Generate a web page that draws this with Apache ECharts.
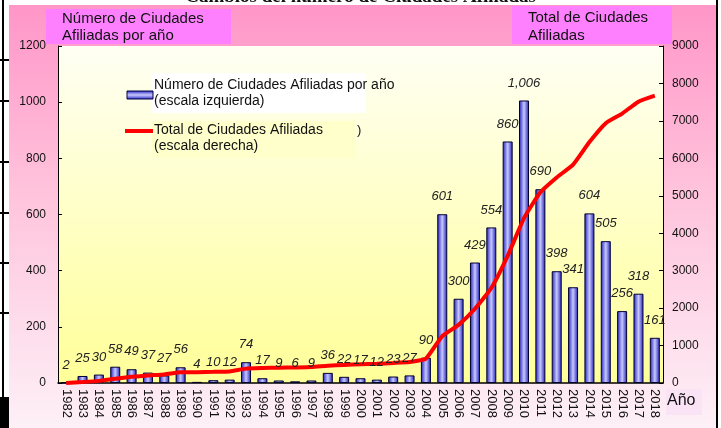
<!DOCTYPE html>
<html><head><meta charset="utf-8">
<script src="https://cdn.jsdelivr.net/npm/echarts@6/dist/echarts.min.js"></script>
<style>html,body{margin:0;padding:0;background:#fff;}#c{width:721px;height:428px;}</style>
</head><body><div id="c"></div>
<script>
var years = ['1982','1983','1984','1985','1986','1987','1988','1989','1990','1991','1992','1993','1994','1995','1996','1997','1998','1999','2000','2001','2002','2003','2004','2005','2006','2007','2008','2009','2010','2011','2012','2013','2014','2015','2016','2017','2018'];
var perYear = [2,25,30,58,49,37,27,56,4,10,12,74,17,9,6,9,36,22,17,12,23,27,90,601,300,429,554,860,1006,690,398,341,604,505,256,318,161];
var total = [2,27,57,115,164,201,228,284,288,298,310,384,401,410,416,425,461,483,500,512,535,562,652,1253,1553,1982,2536,3396,4402,5092,5490,5831,6435,6940,7196,7514,7675];
var leftTicks = [0,200,400,600,800,1000,1200];
var rightTicks = [0,1000,2000,3000,4000,5000,6000,7000,8000,9000];

var chart = echarts.init(document.getElementById('c'));
var F = 'Liberation Sans, Arial, sans-serif';
function fmt(p){return p.value>=1000? (Math.floor(p.value/1000)+','+String(p.value%1000).padStart(3,'0')) : String(p.value);}
var option = {
  animation: false,
  backgroundColor: '#ffffff',
  graphic: [
    {type:'text', left:'center', top:-12, z:0, style:{text:'Cambios del número de Ciudades Afiliadas', font:'bold 19px "Liberation Serif", serif', fill:'#111'}},
    {type:'rect', shape:{x:9,y:5,width:707,height:423}, z:-10, style:{fill:new echarts.graphic.LinearGradient(0,0,0,1,[{offset:0,color:'#ff96c8'},{offset:0.45,color:'#ffc4dc'},{offset:1,color:'#fdf0f7'}])}},
    {type:'rect', shape:{x:46,y:9,width:185,height:35}, z:5, style:{fill:'#ff80ff'}},
    {type:'text', x:62, y:10, z:6, style:{text:'Número de Ciudades\nAfiliadas por año', font:'15px '+F, fill:'#111', lineHeight:17}},
    {type:'rect', shape:{x:512,y:6,width:160,height:38}, z:5, style:{fill:'#ff80ff'}},
    {type:'text', x:528, y:9, z:6, style:{text:'Total de Ciudades\nAfiliadas', font:'15px '+F, fill:'#111', lineHeight:18}},
    {type:'rect', shape:{x:666,y:389,width:36,height:26}, z:5, style:{fill:'#fbe3f6'}},
    {type:'text', x:667, y:393, z:6, style:{text:'Año', font:'16px '+F, fill:'#111'}},
    {type:'rect', shape:{x:152,y:73,width:214,height:40}, z:5, style:{fill:'#ffffff'}},
    {type:'rect', shape:{x:127,y:91,width:26,height:8}, z:6, style:{stroke:'#000044',lineWidth:1,fill:new echarts.graphic.LinearGradient(0,0,0,1,[{offset:0,color:'#2020c0'},{offset:0.5,color:'#c8c8ff'},{offset:1,color:'#2020c0'}])}},
    {type:'text', x:154, y:77, z:6, style:{text:'Número de Ciudades Afiliadas por año\n(escala izquierda)', font:'14px '+F, fill:'#111', lineHeight:16}},
    {type:'rect', shape:{x:152,y:121,width:204,height:37}, z:5, style:{fill:'#ffffcc'}},
    {type:'line', shape:{x1:125,y1:131,x2:153,y2:131}, z:6, style:{stroke:'#ff0000',lineWidth:4}},
    {type:'text', x:154, y:122, z:6, style:{text:'Total de Ciudades Afiliadas\n(escala derecha)', font:'14px '+F, fill:'#111', lineHeight:16}},
    {type:'text', x:357, y:124, z:6, style:{text:')', font:'13px '+F, fill:'#111'}},
    {type:'line', shape:{x1:3,y1:0,x2:3,y2:428}, z:7, style:{stroke:'#000',lineWidth:2}},
    {type:'line', shape:{x1:717,y1:0,x2:717,y2:428}, z:7, style:{stroke:'#000',lineWidth:2}},
    {type:'line', shape:{x1:0,y1:60,x2:9,y2:60}, z:7, style:{stroke:'#000',lineWidth:2}},
    {type:'line', shape:{x1:0,y1:101,x2:9,y2:101}, z:7, style:{stroke:'#000',lineWidth:2}},
    {type:'line', shape:{x1:0,y1:162,x2:9,y2:162}, z:7, style:{stroke:'#000',lineWidth:2}},
    {type:'line', shape:{x1:0,y1:213,x2:9,y2:213}, z:7, style:{stroke:'#000',lineWidth:2}},
    {type:'line', shape:{x1:0,y1:263,x2:9,y2:263}, z:7, style:{stroke:'#000',lineWidth:2}},
    {type:'line', shape:{x1:0,y1:313,x2:9,y2:313}, z:7, style:{stroke:'#000',lineWidth:2}},
    {type:'rect', shape:{x:0,y:397,width:9,height:31}, z:7, style:{fill:'#000'}}
  ],
  grid: {left:58, right:58, top:46, bottom:45, show:true, borderWidth:0,
    backgroundColor: new echarts.graphic.LinearGradient(0,0,0,1,[{offset:0,color:'#fffff4'},{offset:1,color:'#ffff99'}])},
  xAxis: {type:'category', data:years,
    axisLine:{lineStyle:{color:'#000',width:1.5}},
    axisTick:{inside:true, length:4, lineStyle:{color:'#000'}},
    axisLabel:{rotate:-90, fontSize:13, color:'#111', fontFamily:F, margin:6, interval:0}},
  yAxis: [
    {type:'value', min:0, max:1200, interval:200, position:'left',
      axisLine:{show:true, lineStyle:{color:'#000',width:1}},
      axisTick:{show:true, inside:true, length:4, lineStyle:{color:'#000'}},
      splitLine:{show:false},
      axisLabel:{fontSize:12, color:'#111', fontFamily:F, margin:12,
        formatter:function(v){return leftTicks.indexOf(v)>=0? String(v):'';}}},
    {type:'value', min:0, max:9000, interval:1000, position:'right',
      axisLine:{show:true, lineStyle:{color:'#000',width:1}},
      axisTick:{show:true, inside:true, length:4, lineStyle:{color:'#000'}},
      splitLine:{show:false},
      axisLabel:{fontSize:12, color:'#111', fontFamily:F, margin:9,
        formatter:function(v){return rightTicks.indexOf(v)>=0? String(v):'';}}}
  ],
  series: [
    {type:'bar', yAxisIndex:0, data:perYear, barWidth:10, z:2,
      itemStyle:{borderColor:'#000033', borderWidth:1,
        color:new echarts.graphic.LinearGradient(0,0,1,0,[{offset:0,color:'#1c1cb8'},{offset:0.5,color:'#c8c8ff'},{offset:1,color:'#1c1cb8'}])}},
    {type:'line', yAxisIndex:1, data:total, symbol:'none', smooth:0.15,
      lineStyle:{color:'#ff0000', width:4}, z:3},
    {type:'bar', yAxisIndex:0, data:perYear, barWidth:10, barGap:'-100%', z:5, silent:true,
      itemStyle:{color:'rgba(0,0,0,0)', borderWidth:0},
      label:{show:true, position:'top', distance:11, fontSize:13, fontStyle:'italic', color:'#222', fontFamily:F, formatter:fmt}}
  ]
};
chart.setOption(option);
</script></body></html>
